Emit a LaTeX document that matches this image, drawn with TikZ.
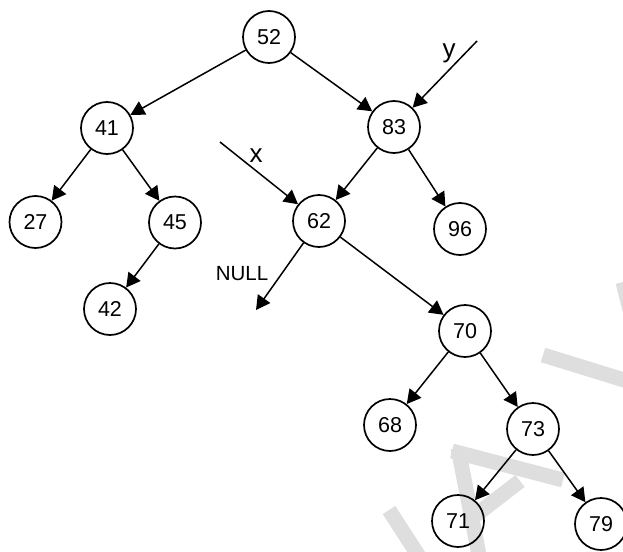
\documentclass[tikz,border=0pt]{standalone}
\usepackage{fontspec}
\setmainfont{Liberation Sans}
\usetikzlibrary{arrows.meta}
\begin{document}
\begin{tikzpicture}[x=1pt,y=-1pt,
  nd/.style={circle,draw,line width=1.7pt,minimum size=52pt,inner sep=0pt,font=\fontsize{21.5}{25}\selectfont},
  ar/.style={line width=1.5pt,-{Triangle[length=14pt,width=15pt]}},
  lbl/.style={inner sep=0pt,font=\fontsize{20.5}{24}\selectfont},
  ptr/.style={inner sep=0pt,anchor=base,font=\fontsize{26}{30}\selectfont},
  wm/.style={line width=15pt,color=black!13}]
\useasboundingbox (0,0) rectangle (623,551);
% watermark
\begin{scope}
\clip (0,0) rectangle (623,551);
\draw[wm] (543,355) -- (650,388);
\draw[wm] (623,282) -- (640,350);
\draw[wm] (458,448) -- (480,560);
\draw[wm] (452,451) -- (563,480);
\draw[wm] (476,515) -- (520,481);
\draw[wm] (389,510) -- (420,558);
\end{scope}
% nodes
\node[nd] (n52) at (269,37) {52};
\node[nd] (n41) at (107,128) {41};
\node[nd] (n83) at (394,127) {83};
\node[nd] (n27) at (35.5,222) {27};
\node[nd] (n45) at (175,222.5) {45};
\node[nd] (n42) at (110,309) {42};
\node[nd] (n62) at (319,221) {62};
\node[nd] (n96) at (460,229) {96};
\node[nd] (n70) at (465,331) {70};
\node[nd] (n68) at (390,425) {68};
\node[nd] (n73) at (533,429) {73};
\node[nd] (n71) at (458,521) {71};
\node[nd] (n79) at (601,524) {79};
% free ends
\coordinate (ys) at (477,41);
\coordinate (xs) at (220,142);
\coordinate (nl) at (256,310);
% labels
\node[ptr] (ly) at (449,57) {y};
\node[ptr] (lx) at (256,162) {x};
\node[lbl] (lnull) at (242,273.5) {NULL};
% edges
\draw[ar] (n52) -- (n41);
\draw[ar] (n52) -- (n83);
\draw[ar] (n41) -- (n27);
\draw[ar] (n41) -- (n45);
\draw[ar] (n45) -- (n42);
\draw[ar] (n83) -- (n62);
\draw[ar] (n83) -- (n96);
\draw[ar] (n62) -- (n70);
\draw[ar] (n70) -- (n68);
\draw[ar] (n70) -- (n73);
\draw[ar] (n73) -- (n71);
\draw[ar] (n73) -- (n79);
\draw[ar] (ys) -- (n83);
\draw[ar] (xs) -- (n62);
\draw[ar] (n62) -- (nl);
\end{tikzpicture}
\end{document}
